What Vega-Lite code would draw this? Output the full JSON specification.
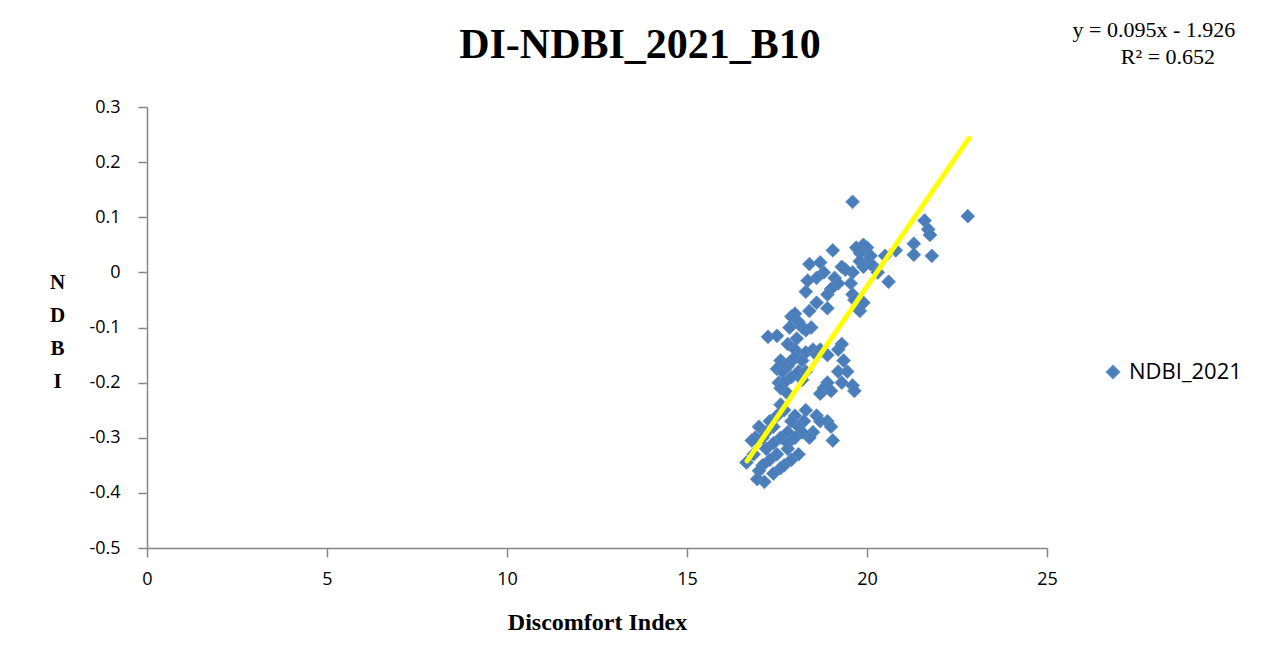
{
  "$schema": "https://vega.github.io/schema/vega-lite/v6.json",
  "width": 900,
  "height": 441,
  "autosize": {"type": "none"},
  "padding": {"left": 147, "top": 107, "right": 223, "bottom": 117},
  "background": "white",
  "config": {
    "view": {"stroke": null},
    "axis": {
      "grid": false,
      "domainColor": "#868686",
      "domainWidth": 1.5,
      "tickColor": "#868686",
      "tickWidth": 1.5,
      "tickSize": 9,
      "labelFont": "Open Sans",
      "labelFontSize": 18,
      "labelColor": "#000000",
      "labelFlush": false,
      "titleFont": "Liberation Serif",
      "titleFontWeight": "bold",
      "titleFontSize": 21,
      "titleColor": "#000000"
    }
  },
  "title": {
    "text": "DI-NDBI_2021_B10",
    "font": "Liberation Serif",
    "fontSize": 42,
    "fontWeight": "bold",
    "color": "#000000",
    "anchor": "middle",
    "dx": 43,
    "offset": -48
  },
  "datasets": {
    "points": [
      {"di": 19.6, "ndbi": 0.128}, {"di": 22.8, "ndbi": 0.102}, {"di": 21.6, "ndbi": 0.094},
      {"di": 21.7, "ndbi": 0.078}, {"di": 21.75, "ndbi": 0.068}, {"di": 21.8, "ndbi": 0.03},
      {"di": 21.3, "ndbi": 0.052}, {"di": 21.3, "ndbi": 0.032}, {"di": 20.8, "ndbi": 0.04},
      {"di": 20.5, "ndbi": 0.03}, {"di": 20.6, "ndbi": -0.017}, {"di": 20.2, "ndbi": 0.01},
      {"di": 20.3, "ndbi": 0.0}, {"di": 19.9, "ndbi": 0.05}, {"di": 20.0, "ndbi": 0.045},
      {"di": 20.1, "ndbi": 0.03}, {"di": 20.0, "ndbi": 0.02}, {"di": 19.8, "ndbi": 0.035},
      {"di": 19.7, "ndbi": 0.045}, {"di": 19.8, "ndbi": 0.02}, {"di": 19.9, "ndbi": 0.01},
      {"di": 20.1, "ndbi": 0.015}, {"di": 19.6, "ndbi": 0.0}, {"di": 19.55, "ndbi": -0.02},
      {"di": 19.6, "ndbi": -0.04}, {"di": 19.65, "ndbi": -0.05}, {"di": 19.75, "ndbi": -0.065},
      {"di": 19.8, "ndbi": -0.07}, {"di": 19.9, "ndbi": -0.055}, {"di": 19.05, "ndbi": 0.04},
      {"di": 19.3, "ndbi": 0.01}, {"di": 19.4, "ndbi": 0.005}, {"di": 19.1, "ndbi": -0.01},
      {"di": 19.2, "ndbi": -0.02}, {"di": 19.0, "ndbi": -0.03}, {"di": 18.9, "ndbi": -0.04},
      {"di": 18.4, "ndbi": 0.015}, {"di": 18.7, "ndbi": 0.018}, {"di": 18.8, "ndbi": 0.0},
      {"di": 18.6, "ndbi": -0.01}, {"di": 18.35, "ndbi": -0.015}, {"di": 18.3, "ndbi": -0.035},
      {"di": 18.6, "ndbi": -0.055}, {"di": 18.9, "ndbi": -0.065}, {"di": 18.4, "ndbi": -0.07},
      {"di": 17.9, "ndbi": -0.08}, {"di": 18.0, "ndbi": -0.075}, {"di": 17.85, "ndbi": -0.1},
      {"di": 18.1, "ndbi": -0.09}, {"di": 18.2, "ndbi": -0.1}, {"di": 18.3, "ndbi": -0.105},
      {"di": 18.45, "ndbi": -0.1}, {"di": 18.05, "ndbi": -0.12}, {"di": 17.25, "ndbi": -0.117},
      {"di": 17.5, "ndbi": -0.115}, {"di": 17.8, "ndbi": -0.13}, {"di": 18.0, "ndbi": -0.14},
      {"di": 18.1, "ndbi": -0.15}, {"di": 18.3, "ndbi": -0.145}, {"di": 18.5, "ndbi": -0.14},
      {"di": 18.6, "ndbi": -0.15}, {"di": 18.7, "ndbi": -0.14}, {"di": 19.3, "ndbi": -0.13},
      {"di": 19.2, "ndbi": -0.14}, {"di": 19.35, "ndbi": -0.16}, {"di": 19.2, "ndbi": -0.18},
      {"di": 19.45, "ndbi": -0.18}, {"di": 19.3, "ndbi": -0.2}, {"di": 18.9, "ndbi": -0.15},
      {"di": 18.9, "ndbi": -0.2}, {"di": 18.8, "ndbi": -0.21}, {"di": 19.0, "ndbi": -0.215},
      {"di": 18.7, "ndbi": -0.22}, {"di": 19.6, "ndbi": -0.205}, {"di": 19.65, "ndbi": -0.215},
      {"di": 17.6, "ndbi": -0.16}, {"di": 17.5, "ndbi": -0.175}, {"di": 17.65, "ndbi": -0.18},
      {"di": 17.8, "ndbi": -0.17}, {"di": 17.9, "ndbi": -0.16}, {"di": 18.0, "ndbi": -0.155},
      {"di": 18.2, "ndbi": -0.16}, {"di": 17.55, "ndbi": -0.2}, {"di": 17.7, "ndbi": -0.2},
      {"di": 17.6, "ndbi": -0.21}, {"di": 17.8, "ndbi": -0.22}, {"di": 17.9, "ndbi": -0.19},
      {"di": 18.1, "ndbi": -0.18}, {"di": 18.2, "ndbi": -0.195}, {"di": 18.3, "ndbi": -0.18},
      {"di": 19.05, "ndbi": -0.305}, {"di": 18.6, "ndbi": -0.26}, {"di": 18.7, "ndbi": -0.27},
      {"di": 18.9, "ndbi": -0.27}, {"di": 19.0, "ndbi": -0.28}, {"di": 18.5, "ndbi": -0.29},
      {"di": 18.4, "ndbi": -0.3}, {"di": 18.3, "ndbi": -0.25}, {"di": 18.25, "ndbi": -0.27},
      {"di": 18.1, "ndbi": -0.28}, {"di": 18.0, "ndbi": -0.26}, {"di": 17.9, "ndbi": -0.27},
      {"di": 17.8, "ndbi": -0.29}, {"di": 17.6, "ndbi": -0.24}, {"di": 17.7, "ndbi": -0.25},
      {"di": 17.5, "ndbi": -0.26}, {"di": 17.4, "ndbi": -0.28}, {"di": 17.3, "ndbi": -0.27},
      {"di": 17.2, "ndbi": -0.29}, {"di": 17.1, "ndbi": -0.3}, {"di": 17.0, "ndbi": -0.28},
      {"di": 16.9, "ndbi": -0.3}, {"di": 16.8, "ndbi": -0.305}, {"di": 17.6, "ndbi": -0.3},
      {"di": 17.8, "ndbi": -0.31}, {"di": 18.0, "ndbi": -0.3}, {"di": 18.2, "ndbi": -0.29},
      {"di": 18.1, "ndbi": -0.33}, {"di": 17.9, "ndbi": -0.34}, {"di": 17.7, "ndbi": -0.35},
      {"di": 17.5, "ndbi": -0.33}, {"di": 17.3, "ndbi": -0.34}, {"di": 17.1, "ndbi": -0.35},
      {"di": 17.0, "ndbi": -0.36}, {"di": 16.95, "ndbi": -0.375}, {"di": 17.15, "ndbi": -0.38},
      {"di": 17.4, "ndbi": -0.365}, {"di": 17.6, "ndbi": -0.355}, {"di": 17.8, "ndbi": -0.32},
      {"di": 16.65, "ndbi": -0.345}, {"di": 16.85, "ndbi": -0.33}, {"di": 17.2, "ndbi": -0.32},
      {"di": 17.4, "ndbi": -0.31}
    ],
    "trend": [
      {"di": 16.67, "ndbi": -0.342},
      {"di": 22.83, "ndbi": 0.243}
    ],
    "equation": [
      {"di": 27.97, "ndbi": 0.44, "label": "y = 0.095x - 1.926"},
      {"di": 28.36, "ndbi": 0.39, "label": "R² = 0.652"}
    ]
  },
  "layer": [
    {
      "data": {"name": "points"},
      "transform": [{"calculate": "'NDBI_2021'", "as": "series"}],
      "mark": {"type": "point", "shape": "diamond", "filled": true, "size": 190, "opacity": 1, "stroke": "#5b8ac4", "strokeWidth": 0.8},
      "encoding": {
        "x": {
          "field": "di", "type": "quantitative",
          "scale": {"domain": [0, 25], "nice": false, "zero": false},
          "axis": {"values": [0, 5, 10, 15, 20, 25], "title": "Discomfort  Index", "titleFontSize": 24, "labelPadding": 13, "titlePadding": 22}
        },
        "y": {
          "field": "ndbi", "type": "quantitative",
          "scale": {"domain": [-0.5, 0.3], "nice": false, "zero": false},
          "axis": {
            "values": [-0.5, -0.4, -0.3, -0.2, -0.1, 0, 0.1, 0.2, 0.3],
            "format": ".1~f",
            "labelExpr": "replace(datum.label, '\u2212', '-')",
            "labelPadding": 18,
            "title": ["N", "D", "B", "I"],
            "titleAngle": 0,
            "titleAlign": "center",
            "titleBaseline": "top",
            "titleX": -90,
            "titleY": 164,
            "titleLineHeight": 33
          }
        },
        "color": {
          "field": "series", "type": "nominal",
          "scale": {"range": ["#4a7ebb"]},
          "legend": {
            "title": null,
            "orient": "none",
            "legendX": 955,
            "legendY": 254,
            "symbolType": "diamond",
            "symbolSize": 170,
            "labelFont": "Open Sans",
            "labelFontSize": 22,
            "labelColor": "#000000",
            "labelOffset": 5
          }
        }
      }
    },
    {
      "data": {"name": "trend"},
      "mark": {"type": "line", "color": "#ffff00", "strokeWidth": 5, "strokeCap": "round"},
      "encoding": {
        "x": {"field": "di", "type": "quantitative"},
        "y": {"field": "ndbi", "type": "quantitative"}
      }
    },
    {
      "data": {"name": "equation"},
      "mark": {"type": "text", "font": "Liberation Serif", "fontSize": 22, "color": "#000000", "align": "center", "baseline": "middle"},
      "encoding": {
        "x": {"field": "di", "type": "quantitative"},
        "y": {"field": "ndbi", "type": "quantitative"},
        "text": {"field": "label"}
      }
    }
  ]
}
